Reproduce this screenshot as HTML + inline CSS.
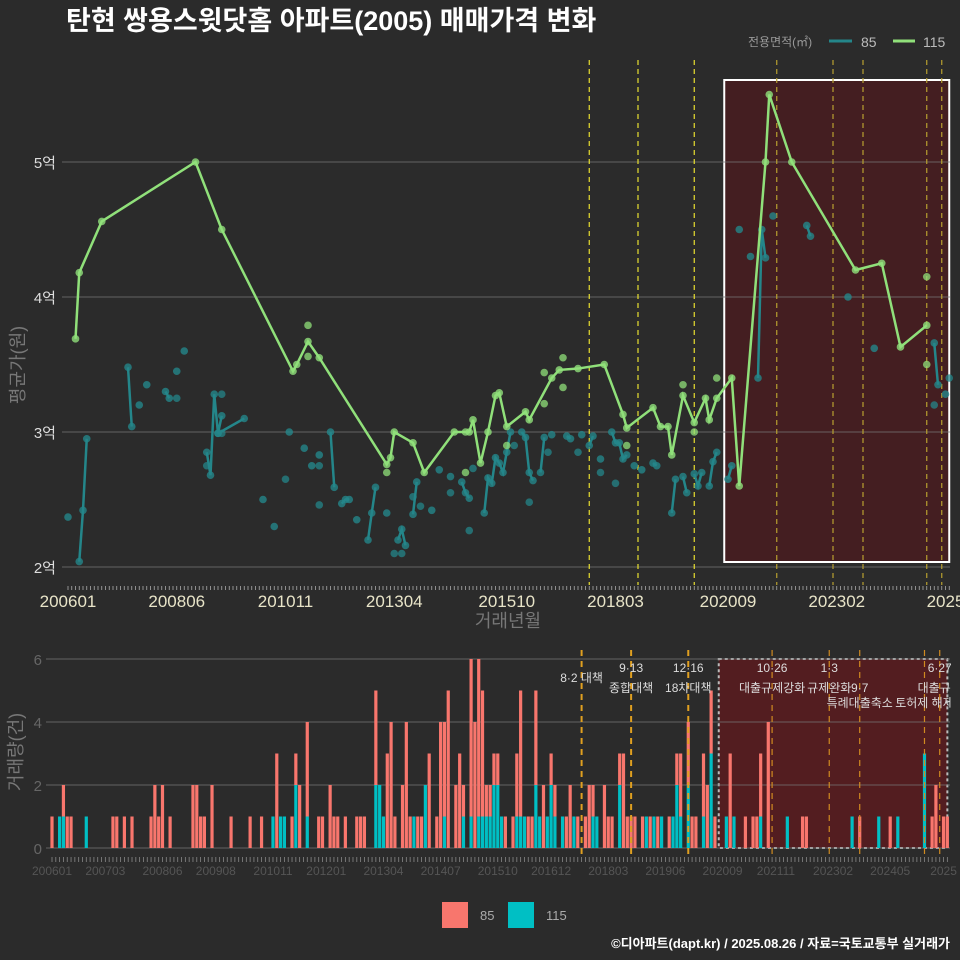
<!DOCTYPE html>
<html><head><meta charset="utf-8">
<style>
html,body{margin:0;padding:0;background:#2b2b2b;}
svg{display:block;font-family:"Liberation Sans","Noto Sans CJK KR",sans-serif;}
</style></head>
<body>
<svg id="chart" width="960" height="960" viewBox="0 0 960 960">
<rect x="0" y="0" width="960" height="960" fill="#2b2b2b"/>
<text x="66" y="30" fill="#ffffff" font-size="27" font-weight="bold">탄현 쌍용스윗닷홈 아파트(2005) 매매가격 변화</text>
<g>
<text x="748" y="46" fill="#999" font-size="12">전용면적(㎡)</text>
<line x1="829" y1="41" x2="852" y2="41" stroke="#24868a" stroke-width="3"/>
<text x="861" y="47" fill="#bbb" font-size="14">85</text>
<line x1="893" y1="41" x2="915" y2="41" stroke="#90e07a" stroke-width="3"/>
<text x="923" y="47" fill="#bbb" font-size="14">115</text>
</g>
<g id="topPanel"></g>
<g id="botPanel"></g>
<text transform="translate(24,365) rotate(-90)" text-anchor="middle" fill="#777" font-size="18">평균가(원)</text>
<text x="508" y="627" text-anchor="middle" fill="#777" font-size="18">거래년월</text>
<text transform="translate(22,752) rotate(-90)" text-anchor="middle" fill="#777" font-size="18">거래량(건)</text>
<g>
<rect x="442" y="902" width="26" height="26" fill="#F8766D"/>
<text x="480" y="920" fill="#aaa" font-size="13">85</text>
<rect x="508" y="902" width="26" height="26" fill="#00BFC4"/>
<text x="546" y="920" fill="#aaa" font-size="13">115</text>
</g>
<text x="950" y="948" text-anchor="end" fill="#fff" font-size="13" font-weight="bold">©디아파트(dapt.kr) / 2025.08.26 / 자료=국토교통부 실거래가</text>
</svg>
<script>
// ---- price data (115㎡ monthly average line) ----
const months115 = ["200603","200604","200610","200811","200906","201101","201102","201105","201108","201302","201303","201304","201309","201312","201408","201412","201501","201503","201505","201507","201508","201510","201603","201604","201610","201612","201705","201712","201805","201806","201901","201903","201905","201906","201909","201912","202003","202004","202006","202010","202012","202107","202108","202202","202307","202402","202407","202502"];
const price115 = [3.69,4.18,4.56,5.00,4.50,3.45,3.50,3.67,3.55,2.76,2.81,3.00,2.92,2.70,3.00,3.00,3.09,2.77,3.00,3.27,3.29,3.04,3.15,3.09,3.40,3.46,3.47,3.50,3.13,3.03,3.18,3.04,3.04,2.83,3.27,3.07,3.25,3.09,3.25,3.40,2.60,5.00,5.50,5.00,4.20,4.25,3.63,3.79];
const extraMonths115 = ["201105","201105","201411","201701","201701","201608","201608","201909","202006","201806","201510","201302","201411","201912","202502","202502"];
const extraPrice115 = [3.79,3.56,3.00,3.55,3.33,3.44,3.21,3.35,3.40,2.90,2.90,2.70,2.70,3.00,4.15,3.50];
// ---- price data (85㎡) ----
const months85 = ["200601","200604","200605","200606","200705","200706","200708","200710","200803","200804","200806","200808","200902","200903","200904","200905","200906","200912","200905","201005","201008","201012","201104","201106","201108","201111","201112","201202","201203","201204","201206","201209","201210","201211","201302","201305","201306","201307","201309","201310","201402","201404","201407","201410","201411","201412","201504","201505","201506","201507","201508","201509","201510","201511","201602","201603","201604","201605","201607","201608","201610","201702","201703","201706","201708","201709","201711","201802","201803","201804","201805","201806","201808","201810","201901","201902","201906","201907","201909","201910","201912","202001","202002","202004","202005","202006","202009","202010","202012","202103","202105","202106","202107","202109","202206","202207","202305","202312","202504","202505","202507"];
const price85 = [2.37,2.04,2.42,2.95,3.48,3.04,3.20,3.35,3.30,3.25,3.45,3.60,2.85,2.68,3.28,2.99,3.12,3.10,2.99,2.50,2.30,3.00,2.88,2.75,2.83,3.00,2.59,2.47,2.50,2.50,2.35,2.20,2.40,2.59,2.40,2.20,2.28,2.16,2.39,2.63,2.42,2.72,2.67,2.63,2.55,2.51,2.40,2.66,2.62,2.81,2.77,2.70,2.85,3.00,3.00,2.96,2.70,2.64,2.70,2.96,2.98,2.97,2.95,2.98,2.90,2.97,2.80,3.00,2.92,2.92,2.80,2.83,2.75,2.72,2.77,2.75,2.40,2.65,2.67,2.55,2.69,2.60,2.70,2.60,2.78,2.85,2.65,2.75,4.50,4.30,3.40,4.50,4.29,4.60,4.53,4.45,4.00,3.62,3.66,3.35,3.28];
const extraMonths85 = ["200806","200902","200906","200906","201108","201108","201011","201304","201306","201309","201311","201407","201412","201501","201512","201604","201705","201711","201803","201609","202504","202508"];
const extraPrice85 = [3.25,2.75,3.28,2.99,2.75,2.46,2.65,2.10,2.10,2.52,2.45,2.55,2.27,2.73,2.90,2.48,2.85,2.70,2.62,2.85,3.20,3.40];
const priceTicks = [2,3,4,5];
const priceTickLabels = ["2억","3억","4억","5억"];
const topXTickLabels = ["200601","200806","201011","201304","201510","201803","202009","202302","2025"];
const topXTickMonths = ["200601","200806","201011","201304","201510","201803","202009","202302","202507"];
// ---- policy events ----
const eventMonths = ["201708","201809","201912","202110","202301","202309","202502","202506"];
const eventLabel1 = ["","9·13","12·16","10·26","1·3","","","6·27"];
const eventLabel2 = ["8·2 대책","종합대책","18차대책","대출규제강화","규제완화","9·7","","대출규제"];
const eventLabel3 = ["","","","","","특례대출축소","토허제 해제",""];
const highlightStart = "202008", highlightEnd = "202508";
// ---- volume data ----
const vol85Months = ["200601","200604","200605","200606","200705","200706","200708","200710","200803","200804","200805","200806","200808","200902","200903","200904","200905","200907","200912","200905","201005","201008","201012","201104","201105","201106","201108","201111","201112","201202","201203","201204","201206","201209","201210","201211","201302","201305","201306","201307","201309","201310","201311","201401","201402","201404","201406","201407","201408","201409","201411","201412","201501","201503","201504","201505","201506","201507","201508","201509","201510","201512","201602","201603","201604","201606","201607","201608","201610","201612","201701","201704","201705","201707","201709","201710","201711","201802","201803","201804","201806","201807","201808","201809","201810","201812","201902","201904","201907","201909","201910","201912","202001","202002","202004","202005","202006","202007","202011","202103","202105","202106","202107","202109","202206","202207","202309","202405","202504","202505","202507","202508"];
const vol85Values = [1,1,1,1,1,1,1,1,1,2,1,2,1,2,2,1,1,2,1,1,1,1,3,1,1,2,3,1,1,2,1,1,1,1,1,1,3,3,4,1,2,4,1,1,1,3,1,4,3,5,2,3,1,5,4,5,4,1,1,1,1,1,1,2,4,1,1,3,2,1,1,1,2,1,1,2,1,2,1,1,1,3,1,1,1,1,1,1,1,1,2,2,1,1,2,2,2,1,3,1,1,1,2,4,1,1,1,1,1,2,1,1];
const vol115Months = ["200603","200604","200610","201011","201101","201102","201105","201108","201302","201303","201304","201312","201403","201408","201501","201503","201505","201506","201507","201508","201509","201510","201511","201603","201604","201605","201608","201609","201611","201612","201701","201703","201706","201711","201712","201806","201901","201903","201905","201908","201909","201910","201912","202004","202006","202010","202012","202107","202202","202307","202402","202407","202502"];
const vol115Values = [1,1,1,1,1,1,2,1,2,2,1,1,2,1,1,1,1,1,1,1,2,2,1,1,1,1,2,1,1,2,1,1,1,1,1,2,1,1,1,1,2,1,2,1,3,1,1,1,1,1,1,1,3];
const volTicks = [0,2,4,6];
const botXTickLabels = ["200601","200703","200806","200908","201011","201201","201304","201407","201510","201612","201803","201906","202009","202111","202302","202405","2025"];
const botXTickMonths = ["200601","200703","200806","200908","201011","201201","201304","201407","201510","201612","201803","201906","202009","202111","202302","202405","202507"];

const NS = "http://www.w3.org/2000/svg";
function mi(s){return (parseInt(s.slice(0,4))-2006)*12+parseInt(s.slice(4,6))-1;}
function el(tag, attrs, parent){const e=document.createElementNS(NS,tag);for(const k in attrs)e.setAttribute(k,attrs[k]);parent.appendChild(e);return e;}
const xTop = m => 68 + m*3.75;
const yTop = p => 567 - (p-2)*135;
const xBot = m => 52 + m*3.81;
const yBot = v => 848 - v*31.5;
const topG = document.getElementById('topPanel'), botG = document.getElementById('botPanel');

// ===== TOP PANEL =====
const hl = el('rect',{x:xTop(mi(highlightStart)),y:80,width:xTop(mi(highlightEnd))-xTop(mi(highlightStart)),height:482,fill:'rgba(90,20,25,0.55)',stroke:'#fff','stroke-width':2},topG);


priceTicks.forEach((p,i)=>{
  const g=el('line',{x1:62,x2:950,y1:yTop(p),y2:yTop(p),stroke:'#777','stroke-width':0.8},topG);
  
  
  const t=el('text',{x:56,y:yTop(p)+6,'text-anchor':'end',fill:'#ddd','font-size':15},topG);
  t.textContent=priceTickLabels[i];
  
  
});
for(let m=0;m<=235;m++){
  const tk=el('line',{x1:xTop(m),x2:xTop(m),y1:586,y2:590,stroke:'#aaa','stroke-width':0.8},topG);
  
  
}
topXTickMonths.forEach((s,i)=>{
  const t=el('text',{x:xTop(mi(s)),y:607,'text-anchor':'middle',fill:'#e8e4c8','font-size':17},topG);
  t.textContent=topXTickLabels[i];
  
  
});
eventMonths.forEach((s,i)=>{
  const inside = mi(s)>=mi(highlightStart);
  const v=el('line',{x1:xTop(mi(s)),x2:xTop(mi(s)),y1:60,y2:585,stroke:inside?'#b8a030':'#e8e030','stroke-width':1.2,'stroke-dasharray':'5,4'},topG);
  
  
});
function drawSeries(months, vals, color, name, connectAll){
  const pts = months.map((s,i)=>[mi(s),vals[i]]);
  let seg=[];
  const flush=()=>{ if(seg.length>1){ const pl=el('polyline',{points:seg.map(p=>xTop(p[0])+','+yTop(p[1])).join(' '),fill:'none',stroke:color,'stroke-width':2.5},topG);
    
    } seg=[]; };
  pts.forEach((p,i)=>{ if(i>0 && !connectAll && p[0]-pts[i-1][0]>1) flush(); seg.push(p); });
  flush();
  pts.forEach(p=>{ const c=el('circle',{cx:xTop(p[0]),cy:yTop(p[1]),r:3.8,fill:color,'fill-opacity':0.8},topG);
    
     });
}
function drawDots(months, vals, color, name){
  months.forEach((s,i)=>{ const c=el('circle',{cx:xTop(mi(s)),cy:yTop(vals[i]),r:3.8,fill:color,'fill-opacity':0.75},topG);
    
     });
}
drawDots(extraMonths85, extraPrice85, '#24868a','series-85-extra');
drawSeries(months85, price85, '#24868a','series-85', false);
drawDots(extraMonths115, extraPrice115, '#90e07a','series-115-extra');
drawSeries(months115, price115, '#90e07a','series-115', true);

// ===== BOTTOM PANEL =====
const hl2 = el('rect',{x:xBot(mi(highlightStart)),y:659,width:xBot(mi(highlightEnd))-xBot(mi(highlightStart)),height:189,fill:'rgba(110,20,25,0.6)',stroke:'#bbb','stroke-width':2,'stroke-dasharray':'3,3'},botG);


volTicks.forEach(v=>{
  const g=el('line',{x1:46,x2:950,y1:yBot(v),y2:yBot(v),stroke:'#777','stroke-width':0.8},botG);
  
  
  const t=el('text',{x:42,y:yBot(v)+6,'text-anchor':'end',fill:'#666','font-size':15},botG);
  t.textContent=String(v);
  
  
});
const stackBase={};
vol115Months.forEach((s,i)=>{
  const m=mi(s), v=vol115Values[i];
  const r=el('rect',{x:xBot(m)-1.6,y:yBot(v),width:3.2,height:yBot(0)-yBot(v),fill:'#00BFC4'},botG);
  
  
  stackBase[m]=v;
});
vol85Months.forEach((s,i)=>{
  const m=mi(s), v=vol85Values[i], b=stackBase[m]||0;
  const r=el('rect',{x:xBot(m)-1.6,y:yBot(b+v),width:3.2,height:yBot(b)-yBot(b+v),fill:'#F8766D'},botG);
  
  
});
for(let m=0;m<=235;m++){
  const tk=el('line',{x1:xBot(m),x2:xBot(m),y1:857,y2:862,stroke:'#888','stroke-width':0.8},botG);
  
  
}
botXTickMonths.forEach((s,i)=>{
  const t=el('text',{x:xBot(mi(s)),y:875,'text-anchor':'middle',fill:'#555','font-size':12},botG);
  t.textContent=botXTickLabels[i];
  
  
});
eventMonths.forEach((s,i)=>{
  const x=xBot(mi(s)); const inside=mi(s)>=mi(highlightStart);
  const v=el('line',{x1:x,x2:x,y1:650,y2:858,stroke:inside?'#d08a20':'#e0a020','stroke-width':inside?1.2:2,'stroke-dasharray':'6,5'},botG);
  
  
  const lines=[[eventLabel1[i],672],[eventLabel2[i],i===0?682:692],[eventLabel3[i],707]];
  lines.forEach(([txt,y])=>{ if(!txt) return;
    const t=el('text',{x:x,y:y,'text-anchor':'middle',fill:'#ddd','font-size':12},botG);
    t.textContent=txt;
    
    
  });
});
const clip=el('rect',{x:951,y:640,width:9,height:80,fill:'#2b2b2b'},botG);


</script>
</body></html>
